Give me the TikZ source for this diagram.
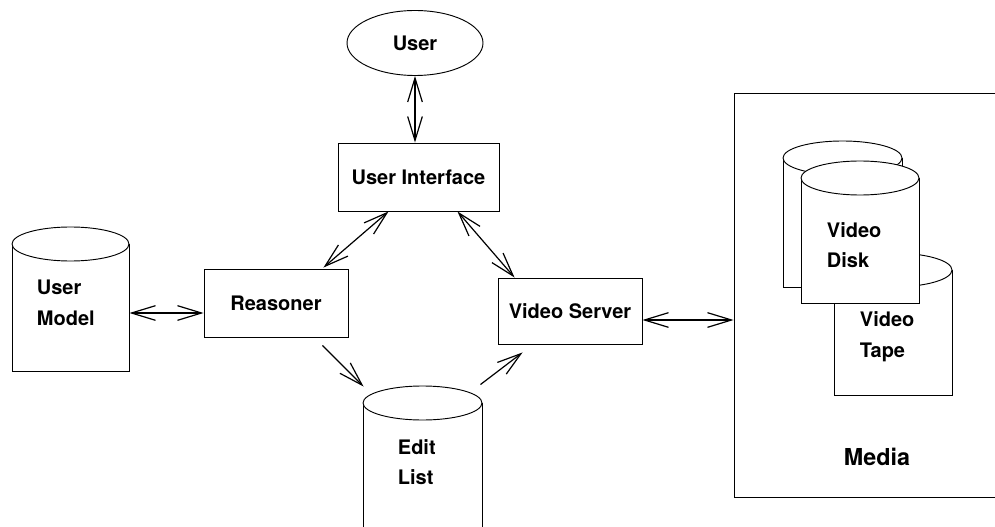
\documentclass[tikz,border=0pt]{standalone}
\usepackage{fontspec}
\setmainfont{TeX Gyre Heros}
\usetikzlibrary{arrows.meta,fit,shapes.geometric}

% drum{name}{left}{right}{cap centre y}{bottom y}: cylinder with flat bottom
\newcommand\drum[5]{%
  \draw[fill=white] (#2,#4) rectangle (#3,#5);
  \draw[fill=white] ({(#2+#3)/2},#4) ellipse [x radius={(#3-#2)/2}, y radius=17];
  \node[inner sep=0pt, fit={(#2,#4-17) (#3,#5)}] (#1) {};
}

\begin{document}
\begin{tikzpicture}[x=0.75pt,y=-0.75pt,
  line width=0.7pt,
  lbl/.style={font=\fontsize{15}{23}\selectfont\bfseries},
  box/.style={draw, fill=white, inner sep=0pt, lbl},
  store/.style={lbl, anchor=west, align=left},
  tip/.tip={Straight Barb[length=18pt,width=11pt]},
  link/.style={line width=0.9pt, tip-tip},
  flow/.style={line width=0.9pt, -tip},
]
\useasboundingbox (0,0) rectangle (995,527);
\clip (0,0) rectangle (995,527);

% processes
\node[box, ellipse, minimum width={136*0.75pt}, minimum height={65*0.75pt}] (user) at (415,43) {User};
\node[box, minimum width={161*0.75pt}, minimum height={68*0.75pt}] (ui) at (418.5,177) {User Interface};
\node[box, minimum width={144*0.75pt}, minimum height={68*0.75pt}] (rs) at (276,303) {Reasoner};
\node[box, minimum width={144*0.75pt}, minimum height={66*0.75pt}] (vs) at (570,311) {Video Server};

% stores
\drum{um}{12}{129}{244}{371}
\node[store] at (32,303) {User\\Model};
\drum{el}{363}{482}{403}{545}
\node[store] at (393,462) {Edit\\List};

% media group
\node[draw, inner sep=0pt, fit={(734,93) (1020,497)}] (media) {};
\node[font=\fontsize{17.5}{21}\selectfont\bfseries] at (877,457) {Media};
\drum{vd2}{783}{902}{158}{287}
\drum{vt}{834}{952}{270}{395}
\node[store] at (855,337) {Video\\Tape};
\drum{vd}{801}{919}{178}{303}
\node[store] at (822,245) {Video\\Disk};

% connectors
\draw[link] (user.south) -- (user.south |- ui.north);
\draw[link] ([shift={(51,0)}]ui.south west) -- ([shift={(-25,-1)}]rs.north east);
\draw[link] ([shift={(-42,0)}]ui.south east) -- ([shift={(17,0)}]vs.north west);
\coordinate (rw) at ([shift={(0,10)}]rs.west);
\draw[link] (um.east |- rw) -- (rw);
\coordinate (ve) at ([shift={(0,9)}]vs.east);
\draw[link] (ve) -- (media.west |- ve);
\draw[flow] ([shift={(-26,8)}]rs.south east) -- ([shift={(1,1)}]el.north west);
\draw[flow] ([shift={(-2,-1)}]el.north east) -- ([shift={(25,8)}]vs.south west);
\end{tikzpicture}
\end{document}
